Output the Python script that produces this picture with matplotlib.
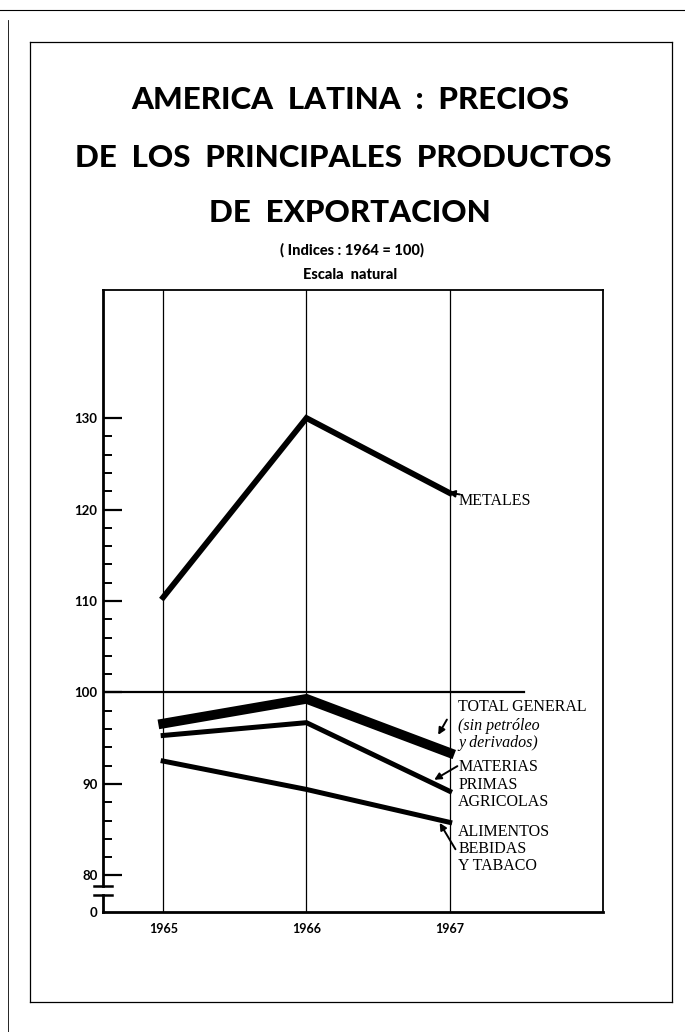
import matplotlib
matplotlib.use("Agg")
import matplotlib.pyplot as plt
from matplotlib.lines import Line2D

# data (indices, 1964 = 100)
years = [1965, 1966, 1967]
metales = [110.4, 130.0, 121.8]
total_general = [96.6, 99.3, 93.4]
materias_primas = [95.3, 96.7, 89.2]
alimentos = [92.5, 89.4, 85.8]

y_major = [80, 90, 100, 110, 120, 130]
y_labels = ["80", "90", "100", "110", "120", "130"]

W, H = 685, 1032
fig = plt.figure(figsize=(W / 100, H / 100), dpi=100)


def fx(px):
    return px / W


def fy(py):
    return 1 - py / H


# page frame (scanned border lines)
frame = dict(color="black", lw=0.9)
fig.add_artist(Line2D([fx(30), fx(672)], [fy(42), fy(42)], **frame))
fig.add_artist(Line2D([fx(30), fx(672)], [fy(1002), fy(1002)], **frame))
fig.add_artist(Line2D([fx(30), fx(30)], [fy(42), fy(1002)], **frame))
fig.add_artist(Line2D([fx(672), fx(672)], [fy(42), fy(1002)], **frame))
fig.add_artist(Line2D([fx(0), fx(685)], [fy(10), fy(10)], color="black", lw=0.8))
fig.add_artist(Line2D([fx(8), fx(8)], [fy(20), fy(1032)], color="black", lw=0.6))

# titles
title_font = dict(family="Lato", weight="black", ha="center", va="center")
fig.text(fx(350), fy(100), "AMERICA  LATINA  :  PRECIOS", fontsize=22.5, **title_font)
fig.text(fx(343), fy(158), "DE  LOS  PRINCIPALES  PRODUCTOS", fontsize=22.5, **title_font)
fig.text(fx(350), fy(213), "DE  EXPORTACION", fontsize=22.5, **title_font)
fig.text(fx(352), fy(250), "( Indices : 1964 = 100)", fontsize=10.5, **title_font)
fig.text(fx(350), fy(275), "Escala  natural", fontsize=10.5, **title_font)

ax = fig.add_axes([fx(103), fy(912), (603 - 103) / W, (912 - 290) / H])
ax.set_xlim(1964.58, 1968.07)
ax.set_ylim(76.0, 144.0)

# year grid lines
for yr in years:
    ax.axvline(yr, color="black", lw=0.9, zorder=1)

# 1964 = 100 reference
ax.plot([1964.58, 1967.52], [100, 100], color="black", lw=1.6, zorder=2)

ax.plot(years, metales, color="black", lw=4.2, solid_joinstyle="miter", zorder=3)
ax.plot(years, total_general, color="black", lw=7.0, solid_joinstyle="miter", zorder=3)
ax.plot(years, materias_primas, color="black", lw=3.6, solid_joinstyle="miter", zorder=3)
ax.plot(years, alimentos, color="black", lw=3.6, solid_joinstyle="miter", zorder=3)

# axes styling
for s in ["top", "right"]:
    ax.spines[s].set_linewidth(1.3)
ax.spines["bottom"].set_linewidth(2.0)
ax.spines["left"].set_visible(False)
ax.plot([1964.58, 1964.58], [144.0, 78.8], color="black", lw=2.0, clip_on=False)
ax.plot([1964.58, 1964.58], [77.9, 76.0], color="black", lw=2.0, clip_on=False)
for yb in [78.8, 77.9]:
    ax.plot([1964.52, 1964.645], [yb, yb], color="black", lw=1.8, clip_on=False)

ax.set_xticks(years)
ax.set_xticklabels([str(y) for y in years], fontsize=9, fontweight="bold", family="Lato")
ax.tick_params(axis="x", length=0, pad=8)

ax.set_yticks(y_major + [76.0])
ax.set_yticklabels(y_labels + ["0"], fontsize=9.5, fontweight="bold", family="Lato")
ax.set_yticks(list(range(82, 130, 2)), minor=True)
ax.tick_params(axis="y", which="major", direction="in", length=14, width=1.6, pad=4)
ax.tick_params(axis="y", which="minor", direction="in", length=6.5, width=1.4)
ax.yaxis.get_major_ticks()[-1].tick1line.set_visible(False)

# annotations
lab = dict(family="Liberation Serif", fontsize=11.5, ha="left", va="center")
tx = 1967.06
ax.text(tx, 100 - (501 - 693) / 9.15, "METALES", **lab)
for py, s in [(708, "TOTAL GENERAL"), (727, "(sin petróleo"), (744, "y derivados)"),
              (768, "MATERIAS"), (786, "PRIMAS"), (803, "AGRICOLAS"),
              (833, "ALIMENTOS"), (850, "BEBIDAS"), (867, "Y TABACO")]:
    style = dict(lab)
    if s.startswith("(") or s.startswith("y "):
        style["style"] = "italic"
    ax.text(tx, 100 - (py - 693) / 9.15, s, **style)

arrow = dict(arrowstyle="-|>", lw=1.4, color="black", mutation_scale=10)
ax.annotate("", xy=(1966.97, 121.9), xytext=(1967.09, 121.6), arrowprops=arrow)
ax.annotate("", xy=(1966.91, 95.1), xytext=(1966.99, 97.3), arrowprops=arrow)
ax.annotate("", xy=(1966.875, 90.3), xytext=(1967.07, 92.1), arrowprops=arrow)
ax.annotate("", xy=(1966.92, 86.0), xytext=(1967.05, 82.6), arrowprops=arrow)

fig.savefig("out.png", dpi=100)
